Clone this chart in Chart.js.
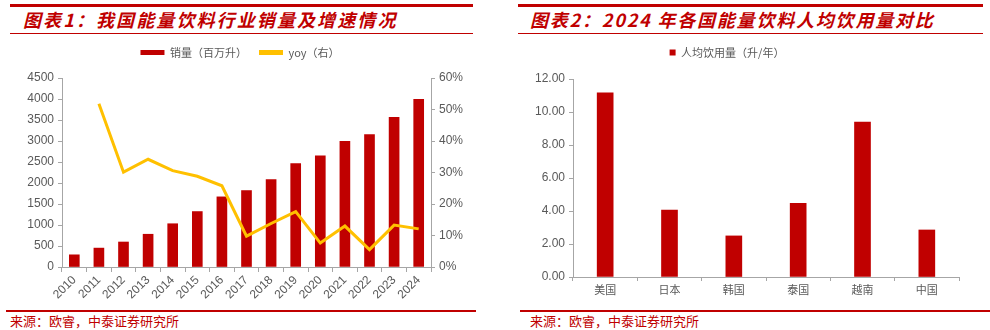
<!DOCTYPE html>
<html>
<head>
<meta charset="utf-8">
<script src="https://cdn.jsdelivr.net/npm/chart.js@4/dist/chart.umd.min.js"></script>
<style>
  html, body { margin: 0; padding: 0; background: #fff; }
  #page { position: relative; width: 990px; height: 330px; overflow: hidden; font-family: "Noto Sans CJK SC", sans-serif; }
  .rule { position: absolute; background: #c00000; }
  .title { position: absolute; top: 7px; font-size: 18px; font-weight: bold; font-style: italic; color: #c00000; white-space: nowrap; line-height: 24px; }
  .source { position: absolute; top: 312px; font-size: 13px; color: #c00000; white-space: nowrap; line-height: 18px; }
  .box { position: absolute; top: 0; height: 310px; }
</style>
</head>
<body>
<div id="page">
  <div class="rule" style="left:10px; top:4px; width:463px; height:3px;"></div>
  <div class="rule" style="left:10px; top:33px; width:463px; height:1px;"></div>
  <div class="title" style="left:23px; letter-spacing:2.1px;">图表1：我国能量饮料行业销量及增速情况</div>
  <div class="rule" style="left:518px; top:4px; width:465px; height:3px;"></div>
  <div class="rule" style="left:518px; top:33px; width:465px; height:1px;"></div>
  <div class="title" style="left:530px; letter-spacing:1.8px;">图表2：2024 年各国能量饮料人均饮用量对比</div>

  <div class="box" style="left:0; width:480px;"><canvas id="salesChart" width="480" height="310"></canvas></div>
  <div class="box" style="left:495px; width:495px;"><canvas id="perCapitaChart" width="495" height="310"></canvas></div>

  <div class="rule" style="left:6px; top:310px; width:470px; height:2px;"></div>
  <div class="source" style="left:10px;">来源：欧睿，中泰证券研究所</div>
  <div class="rule" style="left:520px; top:310px; width:470px; height:2px;"></div>
  <div class="source" style="left:530px;">来源：欧睿，中泰证券研究所</div>
</div>
<script>
// chart 1: sales volume (million litres) and yoy growth (%)
const years = ['2010', '2011', '2012', '2013', '2014', '2015', '2016', '2017', '2018', '2019', '2020', '2021', '2022', '2023', '2024'];
const sales = [290, 450, 595, 780, 1030, 1320, 1670, 1820, 2080, 2460, 2645, 2990, 3150, 3565, 3990];
const yoy = [null, 51.8, 30.1, 34.2, 30.6, 28.8, 25.8, 9.8, 13.8, 17.6, 7.6, 13.0, 5.5, 13.3, 12.1];

// chart 2: per capita consumption 2024 (litres / year)
const countries = ['美国', '日本', '韩国', '泰国', '越南', '中国'];
const perCapita = [11.16, 4.06, 2.49, 4.46, 9.39, 2.85];

const RED = '#c00000';
const YELLOW = '#ffc000';
const AXIS = '#a6a6a6';
const TEXT = '#595959';
const latin = '"Liberation Sans", Arial, sans-serif';
const cjk = '"Noto Sans CJK SC", sans-serif';

Chart.defaults.animation = false;
Chart.defaults.responsive = false;
Chart.defaults.color = TEXT;

// extra gap between legend and plot area
const legendGap = {
    id: 'legendGap',
    beforeInit(chart, args, opts) {
        const fit = chart.legend.fit;
        chart.legend.fit = function () {
            fit.bind(chart.legend)();
            this.height += opts.gap || 0;
        };
    }
};

new Chart(document.getElementById('salesChart'), {
    data: {
        labels: years,
        datasets: [
            {
                type: 'line',
                label: 'yoy（右）',
                data: yoy,
                yAxisID: 'y1',
                borderColor: YELLOW,
                backgroundColor: YELLOW,
                borderWidth: 3,
                pointRadius: 0,
                tension: 0,
                order: 0
            },
            {
                type: 'bar',
                label: '销量（百万升）',
                data: sales,
                yAxisID: 'y',
                backgroundColor: RED,
                barThickness: 10,
                order: 1
            }
        ]
    },
    plugins: [legendGap],
    options: {
        layout: { padding: { top: 35, left: 0, right: 0, bottom: 0 } },
        plugins: {
            legendGap: { gap: 10 },
            tooltip: { enabled: false },
            legend: {
                position: 'top',
                labels: {
                    font: { family: cjk, size: 11 },
                    color: TEXT,
                    boxWidth: 24,
                    boxHeight: 5,
                    padding: 12,
                    // bar entry first, like the original
                    sort: (a, b) => b.datasetIndex - a.datasetIndex,
                    generateLabels: chart => chart.data.datasets.map((ds, i) => ({
                        text: ds.label,
                        fillStyle: ds.type === 'line' ? ds.borderColor : ds.backgroundColor,
                        strokeStyle: ds.type === 'line' ? ds.borderColor : ds.backgroundColor,
                        lineWidth: 0,
                        datasetIndex: i,
                        fontColor: TEXT
                    }))
                }
            }
        },
        scales: {
            x: {
                offset: true,
                grid: { display: true, drawOnChartArea: false, tickLength: 5, color: AXIS, offset: true },
                border: { color: AXIS },
                ticks: { font: { family: latin, size: 12 }, color: TEXT, minRotation: 45, maxRotation: 45, padding: 1, autoSkip: false },
                afterFit: s => { s.height = 43; }
            },
            y: {
                position: 'left',
                min: 0,
                max: 4500,
                ticks: { stepSize: 500, font: { family: latin, size: 12 }, color: TEXT, padding: 4, callback: v => String(v) },
                grid: { display: true, drawOnChartArea: false, tickLength: 4, color: AXIS },
                border: { color: AXIS },
                afterFit: s => { s.width = 62; }
            },
            y1: {
                position: 'right',
                min: 0,
                max: 60,
                ticks: { stepSize: 10, font: { family: latin, size: 12 }, color: TEXT, padding: 4, callback: v => v + '%' },
                grid: { display: true, drawOnChartArea: false, tickLength: 4, color: AXIS },
                border: { color: AXIS },
                afterFit: s => { s.width = 49; }
            }
        }
    }
});

new Chart(document.getElementById('perCapitaChart'), {
    type: 'bar',
    data: {
        labels: countries,
        datasets: [{
            label: '人均饮用量（升/年）',
            data: perCapita,
            backgroundColor: RED,
            barThickness: 16
        }]
    },
    plugins: [legendGap],
    options: {
        layout: { padding: { top: 35, left: 0, right: 31, bottom: 0 } },
        plugins: {
            legendGap: { gap: 11 },
            tooltip: { enabled: false },
            legend: {
                position: 'top',
                labels: { font: { family: cjk, size: 11 }, color: TEXT, boxWidth: 6, boxHeight: 6, padding: 12 }
            }
        },
        scales: {
            x: {
                grid: { display: true, drawOnChartArea: false, tickLength: 4, color: AXIS, offset: true },
                border: { color: AXIS },
                ticks: { font: { family: cjk, size: 11 }, color: TEXT, padding: 2 },
                afterFit: s => { s.height = 33; }
            },
            y: {
                min: 0,
                max: 12,
                ticks: { stepSize: 2, font: { family: latin, size: 12 }, color: TEXT, padding: 4, callback: v => v.toFixed(2) },
                grid: { display: true, drawOnChartArea: false, tickLength: 4, color: AXIS },
                border: { color: AXIS },
                afterFit: s => { s.width = 78; }
            }
        }
    }
});
</script>
</body>
</html>
